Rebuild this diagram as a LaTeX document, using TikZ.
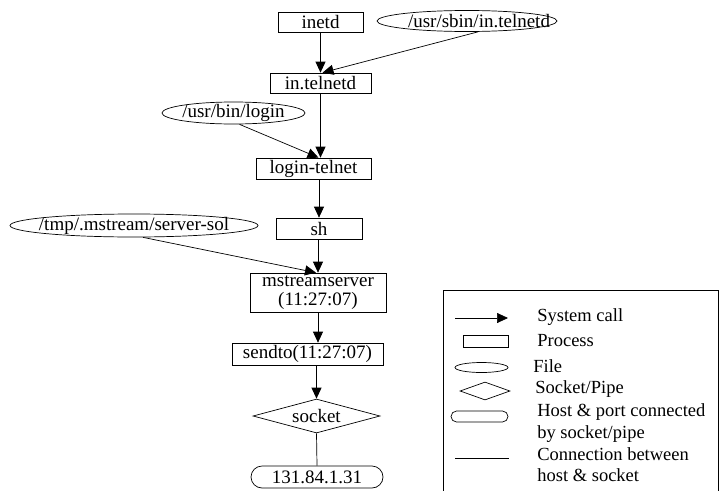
\documentclass[tikz,border=0pt]{standalone}
\usepackage{fontspec}
\setmainfont{Liberation Serif}
\usetikzlibrary{arrows.meta,shapes.geometric,shapes.misc}

\tikzset{
  proc/.style={draw, rectangle, inner sep=0pt, minimum height=20pt},
  file/.style={draw, ellipse, inner sep=0pt, minimum height=21pt},
  sock/.style={draw, diamond, aspect=3.7, inner sep=0pt},
  host/.style={draw, rounded rectangle, inner sep=0pt, minimum height=22pt},
  call/.style={-{Triangle[length=11pt,width=10pt]}},
  legtext/.style={anchor=base west, inner sep=0pt, font=\fontsize{18.5}{18.5}\selectfont}
}

\begin{document}
\begin{tikzpicture}[x=1pt, y=-1pt, line width=0.7pt, font=\fontsize{19}{19}\selectfont]
		\useasboundingbox (0,0) rectangle (720,490);
		% processes and files
		\node[proc, minimum width=85pt] (inetd) at (320.5,22) {inetd};
		\node[file, minimum width=180pt, label={[xshift=12pt]center:/usr/sbin/in.telnetd}] (sbinfile) at (467,21) {};
		\node[proc, minimum width=101pt] (intel) at (320.5,83) {in.telnetd};
		\node[file, minimum width=143pt, minimum height=22pt, label=center:/usr/bin/login] (loginfile) at (233.5,113) {};
		\node[proc, minimum width=115pt, minimum height=21pt] (logintel) at (313.5,168.5) {login-telnet};
		\node[proc, minimum width=86pt, minimum height=21pt] (sh) at (319,228.5) {sh};
		\node[file, minimum width=248pt, minimum height=23pt, label=center:/tmp/.mstream/server-sol] (tmpfile) at (134,225.5) {};
		\node[proc, minimum width=136pt, minimum height=39pt, align=center] (mstream) at (318,292.5) {mstreamserver\\(11:27:07)};
		\node[proc, minimum width=151pt, minimum height=22pt] (sendto) at (307.5,354) {sendto(11:27:07)};
		\node[sock, minimum width=127pt, minimum height=34pt] (socket) at (316.5,416) {socket};
		\node[host, minimum width=132pt] (hostip) at (317,477) {131.84.1.31};
		% system calls
		\draw[call] (inetd.south) -- (intel.north);
		\draw[call] ([xshift=11pt]sbinfile.south) -- ([xshift=2pt]intel.north);
		\draw[call] (intel.south) -- (intel.south |- logintel.north);
		\draw[call] ([xshift=6pt]loginfile.south) -- ([xshift=5pt]logintel.north);
		\draw[call] (logintel.south -| sh.north) -- (sh.north);
		\draw[call] (sh.south -| mstream.north) -- (mstream.north);
		\draw[call] ([xshift=9pt]tmpfile.south) -- ([xshift=-2pt]mstream.north);
		\draw[call] (mstream.south) -- (mstream.south |- sendto.north);
		\draw[call] (sendto.south -| socket.north) -- (socket.north);
		\draw (socket.south) -- (hostip.north);
		% legend
		\draw (443,492) -- (443,290) -- (718,290) -- (718,492);
		\coordinate (legA) at (455,318);
		\coordinate (legB) at (508,318);
		\draw[call] (legA) -- (legB);
		\node[proc, minimum width=45pt, minimum height=12pt] (legproc) at (485.5,341.5) {};
		\node[file, minimum width=53pt, minimum height=10pt] (legfile) at (481.5,367.5) {};
		\node[sock, minimum width=50pt, minimum height=18pt] (legsock) at (485,391) {};
		\node[host, minimum width=57pt, minimum height=11pt] (leghost) at (479.5,416.5) {};
		\coordinate (legC) at (455,458);
		\coordinate (legD) at (509,458);
		\draw (legC) -- (legD);
		\node[legtext] (t1) at (537,321.5) {System call};
		\node[legtext] (t2) at (537,346.5) {Process};
		\node[legtext] (t3) at (533,372.5) {File};
		\node[legtext] (t4) at (535,393) {Socket/Pipe};
		\node[legtext] (t5) at (537,416.5) {Host \& port connected};
		\node[legtext] (t6) at (537,438) {by socket/pipe};
		\node[legtext] (t7) at (537,460) {Connection between};
		\node[legtext] (t8) at (537,481.5) {host \& socket};
	\end{tikzpicture}
\end{document}
